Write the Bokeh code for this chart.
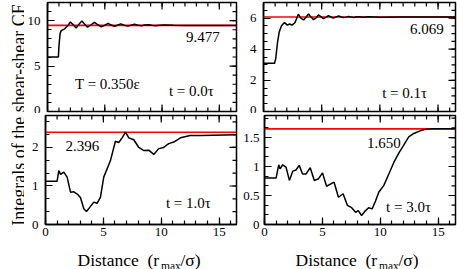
import math
from bokeh.plotting import figure
from bokeh.models import Label, Span, FixedTicker, Range1d
from bokeh.layouts import row, column
from bokeh.embed import file_html
from bokeh.resources import INLINE

# ---------------- data ----------------
x_ticks = [0, 5, 10, 15]
x_tick_labels = ["0", "5", "10", "15"]
x_minor = [0, 1, 2, 3, 4, 5, 6, 7, 8, 9, 10, 11, 12, 13, 14, 15, 16]

# t = 0.0 tau
x_a = [0, 0.95, 1.0, 1.1, 1.2, 1.5, 1.8, 2.0, 2.25, 2.5, 2.75, 3.0, 3.25, 3.5, 3.8, 4.1, 4.4, 4.7,
       5.0, 5.3, 5.55, 5.85, 6.1, 6.4, 6.7, 7.0, 7.3, 7.6, 7.9, 8.2, 8.5, 8.8, 9.1, 9.4, 9.8,
       10.2, 11.0, 12.0, 13.0, 14.0, 16.5]
y_a = [6.0, 6.0, 7.2, 8.6, 8.9, 9.1, 9.5, 9.85, 9.55, 9.2, 9.6, 9.95, 9.6, 9.28, 9.55, 9.82, 9.55, 9.32,
       9.5, 9.7, 9.52, 9.38, 9.5, 9.65, 9.5, 9.40, 9.5, 9.6, 9.5, 9.43, 9.52, 9.56, 9.49, 9.45, 9.5,
       9.52, 9.49, 9.48, 9.48, 9.47, 9.47]
ref_a = 9.477
yt_a = [0, 5, 10]
yl_a = ["0", "5", "10"]
ym_a = [0, 1, 2, 3, 4, 5, 6, 7, 8, 9, 10, 11, 12]

# t = 0.1 tau
x_b = [0, 0.95, 1.05, 1.2, 1.35, 1.55, 1.8, 2.05, 2.25, 2.45, 2.7, 3.0, 3.2, 3.45, 3.65, 3.87, 4.1,
       4.3, 4.5, 4.73, 4.95, 5.15, 5.35, 5.58, 5.8, 6.0, 6.2, 6.45, 6.65, 6.88, 7.1, 7.3, 7.5,
       7.74, 7.95, 8.17, 8.4, 8.6, 8.8, 9.0, 9.5, 10.0, 12.0, 16.5]
y_b = [3.1, 3.1, 3.4, 4.4, 5.1, 5.5, 5.72, 5.55, 5.62, 5.55, 5.7, 6.25, 6.0, 5.88, 6.05, 6.26, 6.05,
       5.9, 6.0, 6.2, 6.08, 5.97, 6.05, 6.15, 6.07, 6.0, 6.06, 6.13, 6.08, 6.03, 6.06, 6.1, 6.07,
       6.04, 6.07, 6.09, 6.07, 6.05, 6.07, 6.08, 6.07, 6.06, 6.07, 6.07]
ref_b = 6.069
yt_b = [0, 2, 4, 6]
yl_b = ["0", "2", "4", "6"]
ym_b = [0, 0.5, 1, 1.5, 2, 2.5, 3, 3.5, 4, 4.5, 5, 5.5, 6, 6.5, 7]

# t = 1.0 tau
x_c = [0, 1.0, 1.15, 1.3, 1.58, 1.87, 2.16, 2.45, 2.74, 3.02, 3.31, 3.54, 3.89, 4.17, 4.46, 4.75,
       5.03, 5.33, 5.61, 6.04, 6.33, 6.62, 6.91, 7.2, 7.63, 8.06, 8.5, 8.92, 9.35, 9.78, 10.2,
       10.65, 11.08, 11.66, 12.5, 13.4, 16.5]
y_c = [1.12, 1.12, 1.40, 1.30, 1.36, 1.23, 0.84, 0.85, 0.79, 0.70, 0.41, 0.34, 0.47, 0.58, 0.55, 0.71,
       1.23, 1.45, 1.66, 2.16, 2.13, 2.25, 2.40, 2.25, 2.20, 2.0, 1.92, 1.93, 1.82, 1.97, 2.0,
       2.1, 2.14, 2.25, 2.31, 2.31, 2.33]
ref_c = 2.396
yt_c = [0, 1, 2]
yl_c = ["0", "1", "2"]
ym_c = [0, 1 / 3, 2 / 3, 1, 4 / 3, 5 / 3, 2, 7 / 3, 8 / 3]

# t = 3.0 tau
x_d = [0, 1.0, 1.23, 1.34, 1.57, 1.86, 2.15, 2.44, 2.72, 3.0, 3.29, 3.58, 3.95, 4.3, 4.67, 5.01,
       5.36, 5.73, 6.01, 6.39, 6.79, 7.16, 7.53, 7.87, 8.1, 8.39, 8.73, 9.0, 9.3, 9.6, 9.88,
       10.3, 10.74, 11.17, 11.6, 12.0, 12.46, 12.9, 13.5, 14.0, 14.6, 16.5]
y_d = [0.80, 0.80, 1.03, 0.96, 1.03, 0.99, 0.76, 0.92, 0.94, 1.02, 0.87, 0.87, 0.98, 0.76, 0.79, 0.89,
       0.66, 0.70, 0.73, 0.47, 0.53, 0.33, 0.29, 0.21, 0.24, 0.155, 0.24, 0.29, 0.27, 0.41, 0.56,
       0.67, 0.87, 1.07, 1.23, 1.36, 1.51, 1.57, 1.62, 1.645, 1.65, 1.65]
ref_d = 1.650
yt_d = [0, 0.5, 1, 1.5]
yl_d = ["0", "0.5", "1", "1.5"]
ym_d = [0, 1 / 6, 2 / 6, 0.5, 4 / 6, 5 / 6, 1, 7 / 6, 8 / 6, 1.5, 10 / 6, 11 / 6]

y_label = "Integrals of the shear-shear CF"
temp_note = "T = 0.350\u03b5"
time_notes = ["t = 0.0\u03c4", "t = 0.1\u03c4", "t = 1.0\u03c4", "t = 3.0\u03c4"]

# ---------------- style ----------------
FONT = "'Liberation Serif', serif"
XMAX = 16.5
FRAME_H = 109
MAJ, MIN = 7, 4


def style_axis(ax):
    ax.axis_line_width = 1.5
    ax.axis_line_color = "black"
    ax.major_tick_in = MAJ
    ax.major_tick_out = 0
    ax.minor_tick_in = MIN
    ax.minor_tick_out = 0
    ax.major_tick_line_width = 1.2
    ax.minor_tick_line_width = 1.2
    ax.major_tick_line_color = "black"
    ax.minor_tick_line_color = "black"
    ax.major_label_text_font = FONT
    ax.major_label_text_color = "black"
    ax.major_label_text_font_size = "13px"


def ticks_segments(p, vals, length_px, side, ymax, fw, fh):
    # inward tick marks on sides without labels, drawn through the data scales
    n = len(vals)
    if side in ("top", "bottom"):
        d = length_px * ymax / fh
        y0 = ymax if side == "top" else 0
        y1 = y0 - d if side == "top" else d
        p.segment(x0=vals, y0=[y0] * n, x1=vals, y1=[y1] * n,
                  line_color="black", line_width=1.2)
    else:
        d = length_px * XMAX / fw
        p.segment(x0=[XMAX] * n, y0=vals, x1=[XMAX - d] * n, y1=vals,
                  line_color="black", line_width=1.2)


def panel(xs, ys, ymax, yt, yl, ym, ref, show_x, bl, fw, br, bt, bb, standoff):
    p = figure(width=bl + fw + br, height=bt + FRAME_H + bb,
               x_range=Range1d(0, XMAX), y_range=Range1d(0, ymax),
               output_backend="svg", toolbar_location=None,
               min_border_left=bl, min_border_right=br,
               min_border_top=bt, min_border_bottom=bb)
    p.outline_line_color = "black"
    p.outline_line_width = 1.5
    p.outline_line_alpha = 1.0
    p.xgrid.visible = False
    p.ygrid.visible = False
    xa = p.xaxis[0]
    if show_x:
        xa.ticker = FixedTicker(ticks=x_ticks, minor_ticks=x_minor)
        xa.major_label_overrides = {t: s for t, s in zip(x_ticks, x_tick_labels)}
        style_axis(xa)
        xa.major_label_standoff = 3
    else:
        xa.visible = False
        ticks_segments(p, x_ticks, MAJ, "bottom", ymax, fw, FRAME_H)
        ticks_segments(p, x_minor, MIN, "bottom", ymax, fw, FRAME_H)
    ya = p.yaxis[0]
    ya.ticker = FixedTicker(ticks=yt, minor_ticks=ym)
    ya.major_label_overrides = {t: s for t, s in zip(yt, yl)}
    style_axis(ya)
    ya.major_label_standoff = standoff
    ticks_segments(p, x_ticks, MAJ, "top", ymax, fw, FRAME_H)
    ticks_segments(p, x_minor, MIN, "top", ymax, fw, FRAME_H)
    ticks_segments(p, yt, MAJ, "right", ymax, fw, FRAME_H)
    ticks_segments(p, ym, MIN, "right", ymax, fw, FRAME_H)
    p.add_layout(Span(location=ref, dimension="width", line_color="#ff0000",
                      line_width=1.6, level="underlay"))
    p.line(xs, ys, line_color="black", line_width=1.5)
    return p


def note(p, x, y, text, size="15px"):
    p.add_layout(Label(x=x, y=y, text=text, text_font=FONT, text_font_size=size,
                       text_color="black", text_align="left", text_baseline="alphabetic"))


TOP_BT, TOP_BB = 2, 2
BOT_BT, BOT_BB = 2, 20
LW, RW = 191, 192

pa = panel(x_a, y_a, 12.0, yt_a, yl_a, ym_a, ref_a, False, 21, LW, 4, TOP_BT, TOP_BB, 7)
pb = panel(x_b, y_b, 7.0, yt_b, yl_b, ym_b, ref_b, False, 23, RW, 2, TOP_BT, TOP_BB, 7)
pc = panel(x_c, y_c, 2.83, yt_c, yl_c, ym_c, ref_c, True, 21, LW, 4, BOT_BT, BOT_BB, 7)
pd = panel(x_d, y_d, 1.88, yt_d, yl_d, ym_d, ref_d, True, 23, RW, 2, BOT_BT, BOT_BB, 5)

note(pa, 12.1, 8.15, "%.3f" % ref_a)
note(pa, 2.4, 3.08, temp_note)
note(pa, 10.6, 2.3, time_notes[0])
note(pb, 12.6, 5.33, "%.3f" % ref_b)
note(pb, 10.2, 1.22, time_notes[1])
note(pc, 1.73, 2.03, "%.3f" % ref_c)
note(pc, 10.4, 0.57, time_notes[2])
note(pd, 8.85, 1.41, "%.3f" % ref_d)
note(pd, 10.5, 0.31, time_notes[3])

# strip below the lower panels carrying the x-axis titles (with subscript)
STRIP_W = 21 + LW + 4 + 23 + RW + 2
STRIP_H = 25
xlab = figure(width=STRIP_W, height=STRIP_H, x_range=Range1d(0, STRIP_W),
              y_range=Range1d(0, STRIP_H), output_backend="svg", toolbar_location=None,
              min_border=0, x_axis_type=None, y_axis_type=None)
xlab.outline_line_color = None
xlab.xgrid.visible = False
xlab.ygrid.visible = False
for off in (0, 218):
    note(xlab, 53 + off, 10, "Distance", "17.5px")
    note(xlab, 123 + off, 10, "(r", "17.5px")
    note(xlab, 136.5 + off, 4, "max", "11.5px")
    note(xlab, 156 + off, 10, "/\u03c3)", "17.5px")

# y-axis title spanning both rows
H_TOTAL = TOP_BT + FRAME_H + TOP_BB + BOT_BT + FRAME_H + BOT_BB + STRIP_H
ylab = figure(width=24, height=H_TOTAL, x_range=Range1d(0, 24), y_range=Range1d(0, H_TOTAL),
              output_backend="svg", toolbar_location=None, min_border=0,
              x_axis_type=None, y_axis_type=None)
ylab.outline_line_color = None
ylab.add_layout(Label(x=18, y=H_TOTAL - 114.5, text=y_label, text_font=FONT,
                      text_font_size="18px", text_color="black", angle=math.pi / 2,
                      text_align="center", text_baseline="alphabetic"))

layout = row(ylab, column(row(pa, pb), row(pc, pd), xlab))

open("out.html", "w").write(file_html(layout, INLINE))
